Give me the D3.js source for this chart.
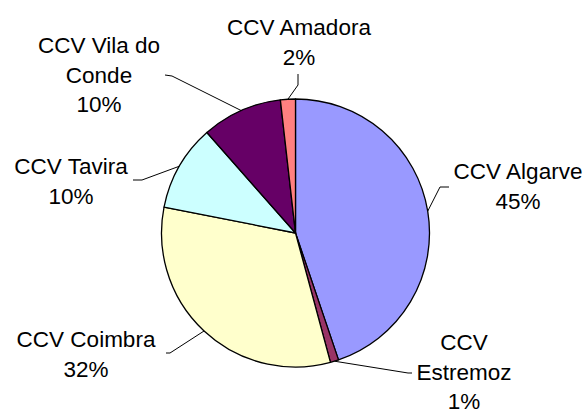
<!DOCTYPE html>
<html>
<head>
<meta charset="utf-8">
<script src="https://cdn.jsdelivr.net/npm/d3@7"></script>
<style>
  body { margin: 0; background: #fff; }
  text { font-family: "Liberation Sans", Arial, sans-serif; fill: #000; }
</style>
</head>
<body>
<div id="chart"></div>
<script>
// Data
const categories = ["CCV Algarve", "CCV Estremoz", "CCV Coimbra", "CCV Tavira", "CCV Vila do Conde", "CCV Amadora"];
const values = [44.8, 1.0, 32.3, 10.4, 9.7, 1.8];
const colors = ["#9999FF", "#993366", "#FFFFCC", "#CCFFFF", "#660066", "#FF8080"];

// Label layout (lines of text, label centre x, first baseline, leader elbow and end)
const labelLayout = {
  "CCV Algarve":       { lines: ["CCV Algarve"], x: 518, y: 179, elbow: [440, 187], end: [449, 187] },
  "CCV Estremoz":      { lines: ["CCV", "Estremoz"], x: 464, y: 350, elbow: [408, 373], end: [412, 373] },
  "CCV Coimbra":       { lines: ["CCV Coimbra"], x: 86, y: 347, elbow: [170, 353], end: [166, 353] },
  "CCV Tavira":        { lines: ["CCV Tavira"], x: 71, y: 174, elbow: [142, 180], end: [133, 180] },
  "CCV Vila do Conde": { lines: ["CCV Vila do", "Conde"], x: 99, y: 53, elbow: [172, 76], end: [165, 75] },
  "CCV Amadora":       { lines: ["CCV Amadora"], x: 299, y: 35, elbow: [298, 85], end: [298, 74] }
};

const width = 585;
const height = 415;
const cx = 295.5;
const cy = 233;
const radius = 134;
const lineHeight = 29.5;

const svg = d3.select("#chart")
  .append("svg")
  .attr("width", width)
  .attr("height", height);

const g = svg.append("g").attr("transform", `translate(${cx},${cy})`);

const total = d3.sum(values);
const data = categories.map((c, i) => ({ name: c, value: values[i], color: colors[i] }));

const pie = d3.pie().value(d => d.value).sort(null);
const arc = d3.arc().innerRadius(0).outerRadius(radius);
const arcs = pie(data);

// Slices
g.selectAll("path.slice")
  .data(arcs)
  .enter()
  .append("path")
  .attr("class", "slice")
  .attr("d", arc)
  .attr("fill", d => d.data.color)
  .attr("stroke", "#000")
  .attr("stroke-width", 1.3)
  .attr("stroke-linejoin", "round");

// Leader lines
svg.selectAll("polyline.leader")
  .data(arcs)
  .enter()
  .append("polyline")
  .attr("class", "leader")
  .attr("fill", "none")
  .attr("stroke", "#000")
  .attr("stroke-width", 1)
  .attr("points", d => {
    const a = (d.startAngle + d.endAngle) / 2;
    const p0 = [cx + radius * Math.sin(a), cy - radius * Math.cos(a)];
    const L = labelLayout[d.data.name];
    return [p0, L.elbow, L.end].map(p => p.join(",")).join(" ");
  });

// Labels
const labels = svg.selectAll("text.label")
  .data(arcs)
  .enter()
  .append("text")
  .attr("class", "label")
  .attr("text-anchor", "middle")
  .style("font-size", "22.5px");

labels.each(function (d) {
  const L = labelLayout[d.data.name];
  const pct = Math.round((d.data.value / total) * 100) + "%";
  const lines = L.lines.concat([pct]);
  d3.select(this)
    .selectAll("tspan")
    .data(lines)
    .enter()
    .append("tspan")
    .attr("x", L.x)
    .attr("y", (t, i) => L.y + i * lineHeight)
    .text(t => t);
});
</script>
</body>
</html>
